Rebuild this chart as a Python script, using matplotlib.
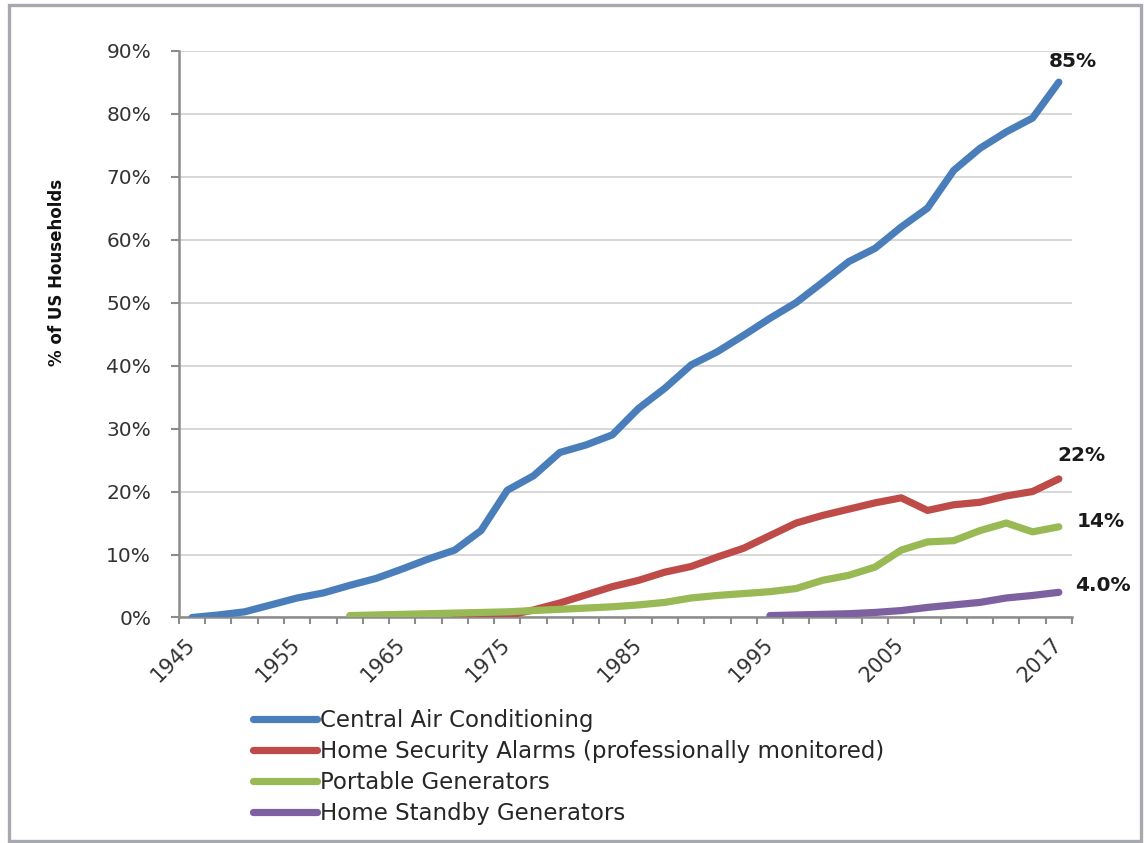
import numpy as np
import matplotlib
matplotlib.use('Agg')
from matplotlib import pyplot as plt
from matplotlib.patches import Rectangle

# one category per survey year, the axis is not linear in time
years = [1945, 1948, 1950, 1953, 1955, 1958, 1960, 1963, 1965, 1968, 1970,
         1973, 1975, 1977, 1979, 1981, 1983, 1985, 1987, 1989, 1991, 1993,
         1995, 1997, 1999, 2001, 2003, 2005, 2007, 2009, 2011, 2013, 2015, 2017]
label_years = [1945, 1955, 1965, 1975, 1985, 1995, 2005, 2017]

series_names = ['Central Air Conditioning',
                'Home Security Alarms (professionally monitored)',
                'Portable Generators',
                'Home Standby Generators']

central_ac = [0.0, 0.4, 0.9, 2.0, 3.1, 3.9, 5.1, 6.2, 7.7, 9.3, 10.7,
              13.8, 20.2, 22.5, 26.2, 27.4, 29.0, 33.2, 36.4, 40.1, 42.2, 44.8,
              47.5, 50.0, 53.2, 56.5, 58.6, 62.0, 65.0, 71.0, 74.5, 77.1, 79.3, 85.0]
security_alarms = [None] * 10 + [0.0, 0.05, 0.3, 1.2, 2.3, 3.6, 4.9, 5.9, 7.2, 8.1,
                                 9.6, 11.0, 13.0, 15.0, 16.2, 17.2, 18.2, 19.0,
                                 17.0, 17.9, 18.3, 19.3, 20.0, 22.0]
portable_gen = [None] * 6 + [0.3, 0.4, 0.5, 0.6, 0.7, 0.8, 0.9, 1.1, 1.3, 1.5,
                             1.7, 2.0, 2.4, 3.1, 3.5, 3.8, 4.1, 4.6, 5.9, 6.7,
                             8.0, 10.7, 12.0, 12.2, 13.8, 15.0, 13.6, 14.4]
standby_gen = [None] * 22 + [0.3, 0.4, 0.5, 0.6, 0.8, 1.1, 1.6, 2.0, 2.4, 3.1,
                             3.5, 4.0]

colors = ['#4a7ebb', '#be4b48', '#98b954', '#7d60a0']
end_formats = ['{:.0f}%', '{:.0f}%', '{:.0f}%', '{:.1f}%']
end_offsets = [(10, 15), (16, 17), (30, 4), (32, 5)]


def to_array(values):
    return np.array([np.nan if v is None else v for v in values], dtype=float)


fig = plt.figure(figsize=(11.45, 8.43), dpi=100)
ax = fig.add_axes([0.1563, 0.2675, 0.7799, 0.6724])

x = np.arange(len(years))
all_series = [central_ac, security_alarms, portable_gen, standby_gen]
handles = []
for values, name, color, fmt, off in zip(all_series, series_names, colors,
                                          end_formats, end_offsets):
    y = to_array(values)
    line, = ax.plot(x, y, color=color, lw=5.2, solid_capstyle='round',
                    solid_joinstyle='round', label=name, zorder=3)
    handles.append(line)
    ax.annotate(fmt.format(y[-1]), xy=(x[-1], y[-1]), xytext=off,
                textcoords='offset points', ha='center', va='center',
                fontsize=14.5, fontweight='bold', color='#1a1a1a')

ax.set_xlim(-0.5, len(years) - 0.5)
ax.set_ylim(0, 90)

# category labels only on selected years, tick marks between categories
label_pos = [years.index(yr) for yr in label_years]
ax.set_xticks(label_pos)
ax.set_xticklabels([str(yr) for yr in label_years], rotation=45, ha='right',
                   rotation_mode='anchor', va='center')
ax.set_xticks(np.arange(len(years) + 1) - 0.5, minor=True)
ax.tick_params(axis='x', which='major', length=0, pad=17, labelsize=15,
               labelcolor='#333333')
ax.tick_params(axis='x', which='minor', length=5, width=1.5, color='#8c8c8c',
               direction='out')

ax.set_yticks(np.arange(0, 91, 10))
ax.set_yticklabels(['{}%'.format(v) for v in range(0, 91, 10)])
ax.tick_params(axis='y', length=6, width=1.5, color='#8c8c8c', pad=14,
               labelsize=14.5, labelcolor='#333333')

ax.grid(axis='y', color='#d4d4d4', lw=1.3, zorder=0)
ax.set_axisbelow(True)
for side in ['top', 'right']:
    ax.spines[side].set_visible(False)
for side in ['left', 'bottom']:
    ax.spines[side].set_color('#8c8c8c')
    ax.spines[side].set_linewidth(1.8)

ax.set_ylabel('% of US Households', fontsize=12, fontweight='bold',
              color='#111111')
ax.yaxis.set_label_coords(-0.126, 0.608)

fig.legend(handles=handles, labels=series_names, loc='upper left',
           bbox_to_anchor=(0.221, 0.1595), frameon=False, fontsize=16.5,
           handlelength=2.8, handletextpad=0.1, labelspacing=0.36,
           borderpad=0, borderaxespad=0, labelcolor='#262626')

fig.patches.append(Rectangle((9 / 1145, 2 / 843), 1132 / 1145, 836 / 843,
                             transform=fig.transFigure, fill=False,
                             edgecolor='#a8a8b0', lw=2.4))

fig.savefig('out.png', dpi=100)
